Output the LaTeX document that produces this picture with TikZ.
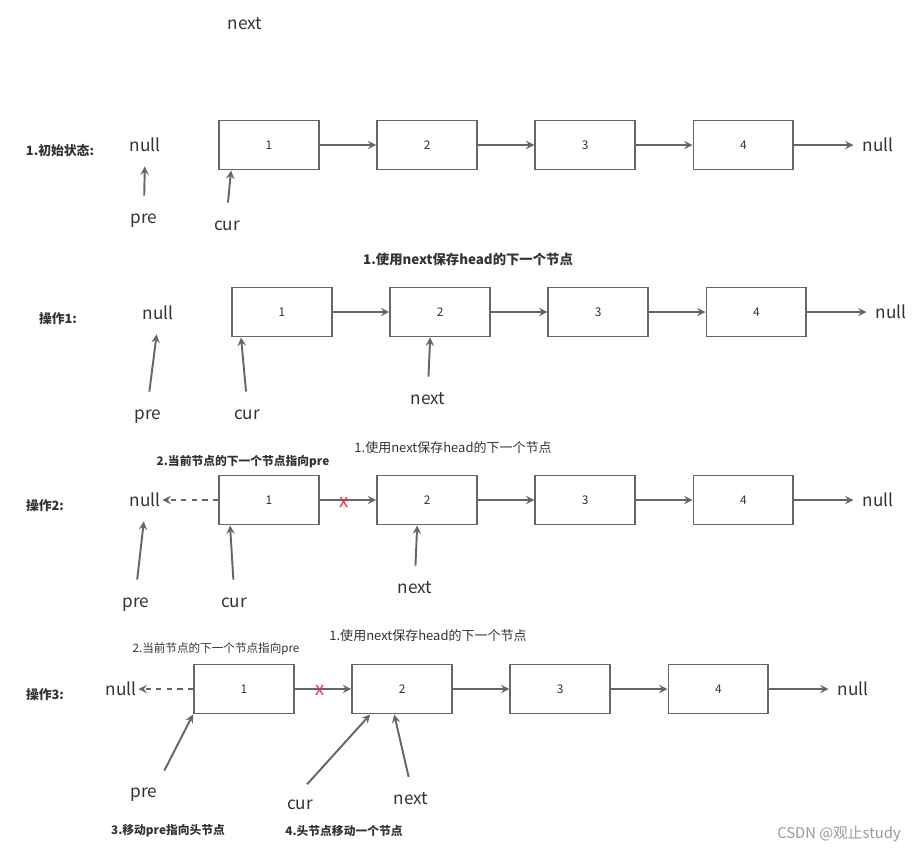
\documentclass[tikz,border=0pt]{standalone}
\usepackage{fontspec}
\setmainfont{Noto Sans CJK SC}
\usetikzlibrary{positioning, arrows, calc}
\definecolor{linegray}{HTML}{666666}
\definecolor{textgray}{HTML}{333333}
\definecolor{crossred}{HTML}{E8334A}
\tikzset{
	>=stealth, % arrow heads
	node distance=1.125cm, % gap between two list boxes
	listbox/.style={draw=linegray, line width=1.1pt, minimum width=2cm, minimum height=0.98cm, text=textgray, font=\fontsize{6.8}{8}\selectfont}, % one list node
	link/.style={->, draw=linegray, line width=1.1pt}, % next pointer of a node
	ptr/.style={link, shorten <=6pt}, % pre / cur / next pointer
	word/.style={text=textgray, inner sep=1pt, text height=0.85em, text depth=0.15em, font=\fontsize{9.8}{11}\selectfont}, % null, pre, cur, next
	tag/.style={text=textgray, font=\bfseries\fontsize{7.3}{9}\selectfont}, % row label
	note/.style={text=textgray, font=\fontsize{7.4}{9}\selectfont}, % step text
	cross/.style={text=crossred, inner sep=0pt, font=\fontsize{10.5}{11}\selectfont}, % broken link
}
\begin{document}
\begin{tikzpicture}[x=0.02cm, y=-0.02cm]
	\useasboundingbox (0,0) rectangle (923,853);

	\node[word] (top) at (245,23) {next};

	% 1. initial state
	\node[tag] (lbl0) at (60,151) {1.初始状态:};
	\node[word] (nl0) at (145,145) {null};
	\node[listbox] (a1) at (269,145) {1};
	\node[listbox, right=of a1] (a2) {2};
	\node[listbox, right=of a2] (a3) {3};
	\node[listbox, right=of a3] (a4) {4};
	\node[word] (nr0) at (878,145) {null};
	\node[word] (pre0) at (144,217) {pre};
	\node[word] (cur0) at (227,224) {cur};

	\draw[link] (a1) -- (a2);
	\draw[link] (a2) -- (a3);
	\draw[link] (a3) -- (a4);
	\draw[link, shorten >=4pt] (a4) -- (nr0);
	\draw[ptr, shorten >=6pt] (pre0.north) -- (nl0.south);
	\draw[ptr] (cur0.north) -- ($(a1.south west)+(13,0)$);

	% operation 1
	\node[note, font=\bfseries\fontsize{7.6}{9}\selectfont] (step1) at (468,259) {1.使用next保存head的下一个节点};
	\node[tag] (lbl1) at (58,319) {操作1:};
	\node[word] (nl1) at (158,313) {null};
	\node[listbox] (b1) at (282,312) {1};
	\node[listbox, right=of b1] (b2) {2};
	\node[listbox, right=of b2] (b3) {3};
	\node[listbox, right=of b3] (b4) {4};
	\node[word] (nr1) at (891,312) {null};
	\node[word] (pre1) at (148,413) {pre};
	\node[word] (cur1) at (247,413) {cur};
	\node[word] (next1) at (428,398) {next};

	\draw[link] (b1) -- (b2);
	\draw[link] (b2) -- (b3);
	\draw[link] (b3) -- (b4);
	\draw[link, shorten >=4pt] (b4) -- (nr1);
	\draw[ptr, shorten >=6pt] (pre1.north) -- (nl1.south);
	\draw[ptr] (cur1.north) -- ($(b1.south west)+(10,0)$);
	\draw[ptr] (next1.north) -- ($(b2.south west)+(41,0)$);

	% operation 2
	\node[note] (step2a) at (453,448) {1.使用next保存head的下一个节点};
	\node[note, font=\bfseries\fontsize{6.7}{8}\selectfont] (step2b) at (243,462) {2.当前节点的下一个节点指向pre};
	\node[tag] (lbl2) at (45,506) {操作2:};
	\node[word] (nl2) at (145,500) {null};
	\node[listbox] (c1) at (269,500) {1};
	\node[listbox, right=of c1] (c2) {2};
	\node[listbox, right=of c2] (c3) {3};
	\node[listbox, right=of c3] (c4) {4};
	\node[word] (nr2) at (878,500) {null};
	\node[word] (pre2) at (136,601) {pre};
	\node[word] (cur2) at (234,601) {cur};
	\node[word] (next2) at (415,587) {next};

	\draw[link] (c1) -- (c2);
	\node[cross] (x2) at (344,502) {x};
	\draw[link, dashed] (c1) -- (nl2);
	\draw[link] (c2) -- (c3);
	\draw[link] (c3) -- (c4);
	\draw[link, shorten >=4pt] (c4) -- (nr2);
	\draw[ptr, shorten >=6pt] (pre2.north) -- (nl2.south);
	\draw[ptr] (cur2.north) -- ($(c1.south west)+(12,0)$);
	\draw[ptr] (next2.north) -- ($(c2.south west)+(41,0)$);

	% operation 3
	\node[note] (step3a) at (428,636) {1.使用next保存head的下一个节点};
	\node[note, font=\fontsize{6.6}{8}\selectfont] (step3b) at (216,649) {2.当前节点的下一个节点指向pre};
	\node[tag] (lbl3) at (45,695) {操作3:};
	\node[word] (nl3) at (121,689) {null};
	\node[listbox] (d1) at (244,689) {1};
	\node[listbox, right=of d1] (d2) {2};
	\node[listbox, right=of d2] (d3) {3};
	\node[listbox, right=of d3] (d4) {4};
	\node[word] (nr3) at (853,689) {null};
	\node[word] (pre3) at (144,791) {pre};
	\node[word] (cur3) at (300,803) {cur};
	\node[word] (next3) at (411,798) {next};
	\node[tag, font=\bfseries\fontsize{6.7}{8}\selectfont] (step3c) at (168,831) {3.移动pre指向头节点};
	\node[tag, font=\bfseries\fontsize{6.7}{8}\selectfont] (step3d) at (344,831) {4.头节点移动一个节点};

	\draw[link] (d1) -- (d2);
	\node[cross] (x3) at (320,690) {x};
	\draw[link, dashed] (d1) -- (nl3);
	\draw[link] (d2) -- (d3);
	\draw[link] (d3) -- (d4);
	\draw[link, shorten >=4pt] (d4) -- (nr3);
	\draw[ptr] (pre3.north east) -- (d1.south west);
	\draw[ptr] (cur3.north) -- ($(d2.south west)+(19,0)$);
	\draw[ptr] (next3.north) -- ($(d2.south west)+(43,0)$);

	\node[text=black!40, font=\fontsize{8.4}{10}\selectfont] (mark) at (839,834) {CSDN @观止study};
\end{tikzpicture}
\end{document}
